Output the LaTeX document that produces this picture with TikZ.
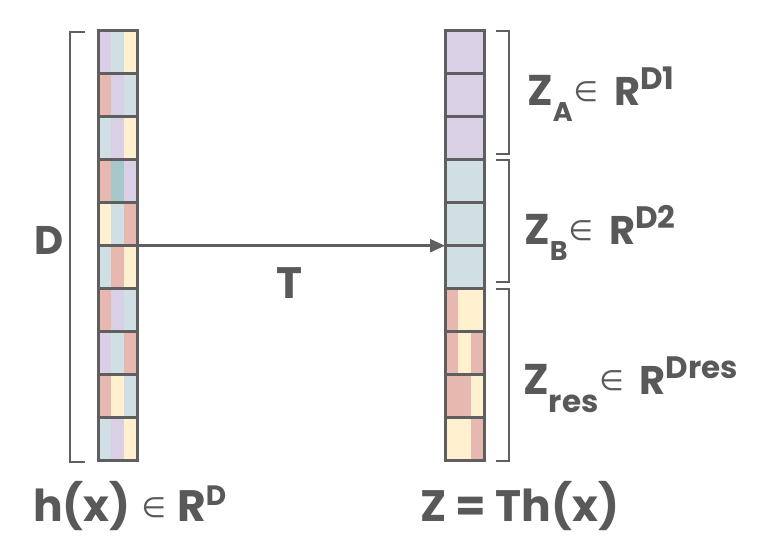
\documentclass[tikz,border=0pt]{standalone}
\usepackage{fontspec}
\setmainfont{Poppins}
\newfontfamily\dvs{DejaVu Sans}
\usetikzlibrary{arrows.meta}
\definecolor{linec}{HTML}{5F5F5F}
\definecolor{textc}{HTML}{595959}
\definecolor{P}{HTML}{D9D0E6}
\definecolor{B}{HTML}{D0DFE3}
\definecolor{Y}{HTML}{FFF1CF}
\definecolor{Rd}{HTML}{E6B8B0}
\definecolor{Tl}{HTML}{A6C8CB}
\newcommand\fs[1]{\fontsize{#1}{#1}\selectfont}
\newcommand\elemsym[1]{\raisebox{4pt}{\dvs\mdseries\fs{#1}∈}}
\begin{document}
\begin{tikzpicture}[x=1pt,y=-1pt,
  cellbox/.style={draw=linec,line width=3pt,minimum width=39pt,minimum height=43pt,inner sep=0pt,outer sep=0pt},
  brack/.style={draw=linec,line width=2pt},
  lab/.style={text=textc,font=\bfseries,inner sep=0pt,anchor=base west}]
\useasboundingbox (0,0) rectangle (768,540);
% left column fills
\foreach [count=\i] \a/\b/\c in {P/B/Y,Rd/P/B,B/P/Y,Rd/Tl/P,Y/B/Rd,B/Rd/Y,Rd/P/B,P/B/Rd,Rd/Y/B,B/P/Y}{
  \pgfmathsetmacro\yt{30.7+43*(\i-1)}
  \fill[\a] (98,\yt) rectangle ++(13,43);
  \fill[\b] (111,\yt) rectangle ++(13,43);
  \fill[\c] (124,\yt) rectangle ++(13,43);
}
% right column fills
\foreach [count=\i] \a/\b/\c in {P/P/P,P/P/P,P/P/P,B/B/B,B/B/B,B/B/B,Rd/Y/Y,Rd/Y/Rd,Rd/Rd/Y,Y/Y/Rd}{
  \pgfmathsetmacro\yt{30.7+43*(\i-1)}
  \fill[\a] (445,\yt) rectangle ++(13,43);
  \fill[\b] (458,\yt) rectangle ++(13,43);
  \fill[\c] (471,\yt) rectangle ++(13,43);
}
% cell borders
\foreach \i in {1,...,10}{
  \pgfmathsetmacro\yc{30.7+43*(\i-1)+21.5}
  \node[cellbox] (L\i) at (117.5,\yc) {};
  \node[cellbox] (R\i) at (464.5,\yc) {};
}
% arrow
\draw[linec,line width=2.5pt,-{Triangle[length=15pt,width=13pt]}] (L5.south east) -- (R5.south west);
% brackets
\coordinate (lb1) at (85,31.7);
\coordinate (lb2) at (85,461.7);
\draw[brack] (lb1) -- (70,31.7) -- (70,461.7) -- (lb2);
\coordinate (ra1) at (496,31);  \coordinate (ra2) at (496,154);
\coordinate (rb1) at (496,159.7); \coordinate (rb2) at (496,282.3);
\coordinate (rc1) at (496,289); \coordinate (rc2) at (496,461);
\draw[brack] (ra1) -- (509,31) -- (509,154) -- (ra2);
\draw[brack] (rb1) -- (509,159.7) -- (509,282.3) -- (rb2);
\draw[brack] (rc1) -- (509,289) -- (509,461) -- (rc2);
% labels
\node[lab] (dl) at (34,254) {\fs{40}D};
\node[lab] (tl) at (276,298) {\fs{44}T};
\node[lab] (za) at (527,106) {\fs{43}Z\raisebox{-16pt}{\fs{27}A}\hspace{1pt}\elemsym{28}\hspace{16pt}\fs{40}R\raisebox{16pt}{\fs{31}D1}};
\node[lab] (zb) at (524,244) {\fs{43}Z\raisebox{-16pt}{\fs{27}B}\hspace{1pt}\elemsym{28}\hspace{16pt}\fs{40}R\raisebox{16pt}{\fs{31}D2}};
\node[lab] (zr) at (523,394) {\fs{43}Z\raisebox{-18pt}{\fs{31}res}\hspace{1pt}\elemsym{28}\hspace{16pt}\fs{40}R\raisebox{16pt}{\fs{31}Dres}};
\node[lab] (hx) at (33,521) {\fs{44}h(x)\hspace{11pt}\elemsym{28}\hspace{11pt}R\raisebox{16pt}{\fs{28}D}};
\node[lab] (zt) at (420,521) {\fs{44}Z = Th(x)};
\end{tikzpicture}
\end{document}
